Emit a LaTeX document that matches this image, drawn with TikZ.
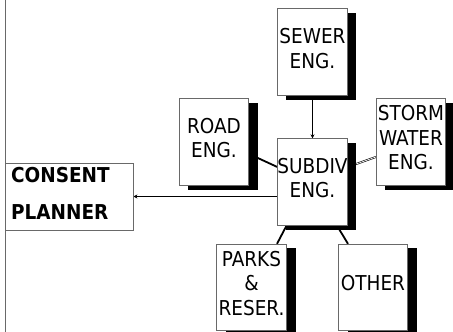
\documentclass[tikz,border=0pt]{standalone}
\usepackage{fontspec}
\setmainfont{DejaVu Sans Condensed}
\usetikzlibrary{arrows.meta}
\pgfdeclarelayer{bg}
\pgfsetlayers{bg,main}
\definecolor{boxgray}{RGB}{105,105,105}
\begin{document}
\begin{tikzpicture}[x=1pt,y=-1pt,
  box/.style={draw=boxgray, line width=0.8pt, fill=white, minimum width=69.5pt, minimum height=86.5pt, inner sep=0pt},
  shadowbox/.style={fill=black, minimum width=69.5pt, minimum height=86.5pt, inner sep=0pt},
  lbl/.style={font=\fontsize{20.5}{24.5}\selectfont, align=center, inner sep=0pt},
  boldlbl/.style={font=\fontsize{20.5}{37}\selectfont\bfseries, align=left, inner sep=0pt, anchor=west},
  link/.style={line width=1.8pt},
  thinlink/.style={line width=0.8pt},
  tip/.style={-{Stealth[length=4pt,width=4pt]}}
]
\useasboundingbox (0,0) rectangle (453,332);
% left border line
\coordinate (lt) at (5,0);
\coordinate (lb) at (5,332);
\draw[boxgray, line width=1pt] (lt) -- (lb);

% shadows
\node[shadowbox] (sewerS) at (321,56.5) {};
\node[shadowbox] (roadS) at (223,146.5) {};
\node[shadowbox] (subdivS) at (321,186.5) {};
\node[shadowbox] (stormS) at (419.5,146.5) {};
\node[shadowbox] (parksS) at (261,291.5) {};
\node[shadowbox] (otherS) at (382.5,291.5) {};

% boxes
\node[box] (sewer) at (312.5,52) {};
\node[box] (road) at (214,142) {};
\node[box] (subdiv) at (312.5,182) {};
\node[box] (storm) at (411,142) {};
\node[box] (parks) at (251.5,287.5) {};
\node[box] (other) at (373,287.5) {};
\node[draw=boxgray, line width=0.8pt, fill=white, minimum width=128pt, minimum height=67pt, inner sep=0pt] (consent) at (69,196.5) {};

% labels
\node[lbl] (sewerT) at (312.5,48.5) {SEWER\\ENG.};
\node[lbl] (roadT) at (214,138) {ROAD\\ENG.};
\node[lbl] (subdivT) at (312.5,178) {SUBDIV\\ENG.};
\node[lbl] (stormT) at (411,138) {STORM\\WATER\\ENG.};
\node[lbl] (parksT) at (251.5,283.5) {PARKS\\\&\\RESER.};
\node[lbl] (otherT) at (373,283.5) {OTHER};
\node[boldlbl] (consentT) at (11,193) {CONSENT\\PLANNER};

% connectors
\begin{pgfonlayer}{bg}
\draw[link, tip] (sewer.south) -- (subdiv.north);
\draw[link] ([yshift=-12pt]road.east) -- ([yshift=15pt]subdiv.west);
\draw[line width=0.6pt, double=white, double distance=0.7pt] ([yshift=-15pt]storm.west) -- ([yshift=15pt]subdiv.east);
\draw[link] ([xshift=-26pt]subdiv.south) -- ([xshift=25.5pt]parks.north);
\draw[link] ([xshift=24.5pt]subdiv.south) -- ([xshift=-25pt]other.north);
\draw[thinlink, tip] (subdiv.west |- consent.east) -- (consent.east);
\end{pgfonlayer}
\end{tikzpicture}
\end{document}
